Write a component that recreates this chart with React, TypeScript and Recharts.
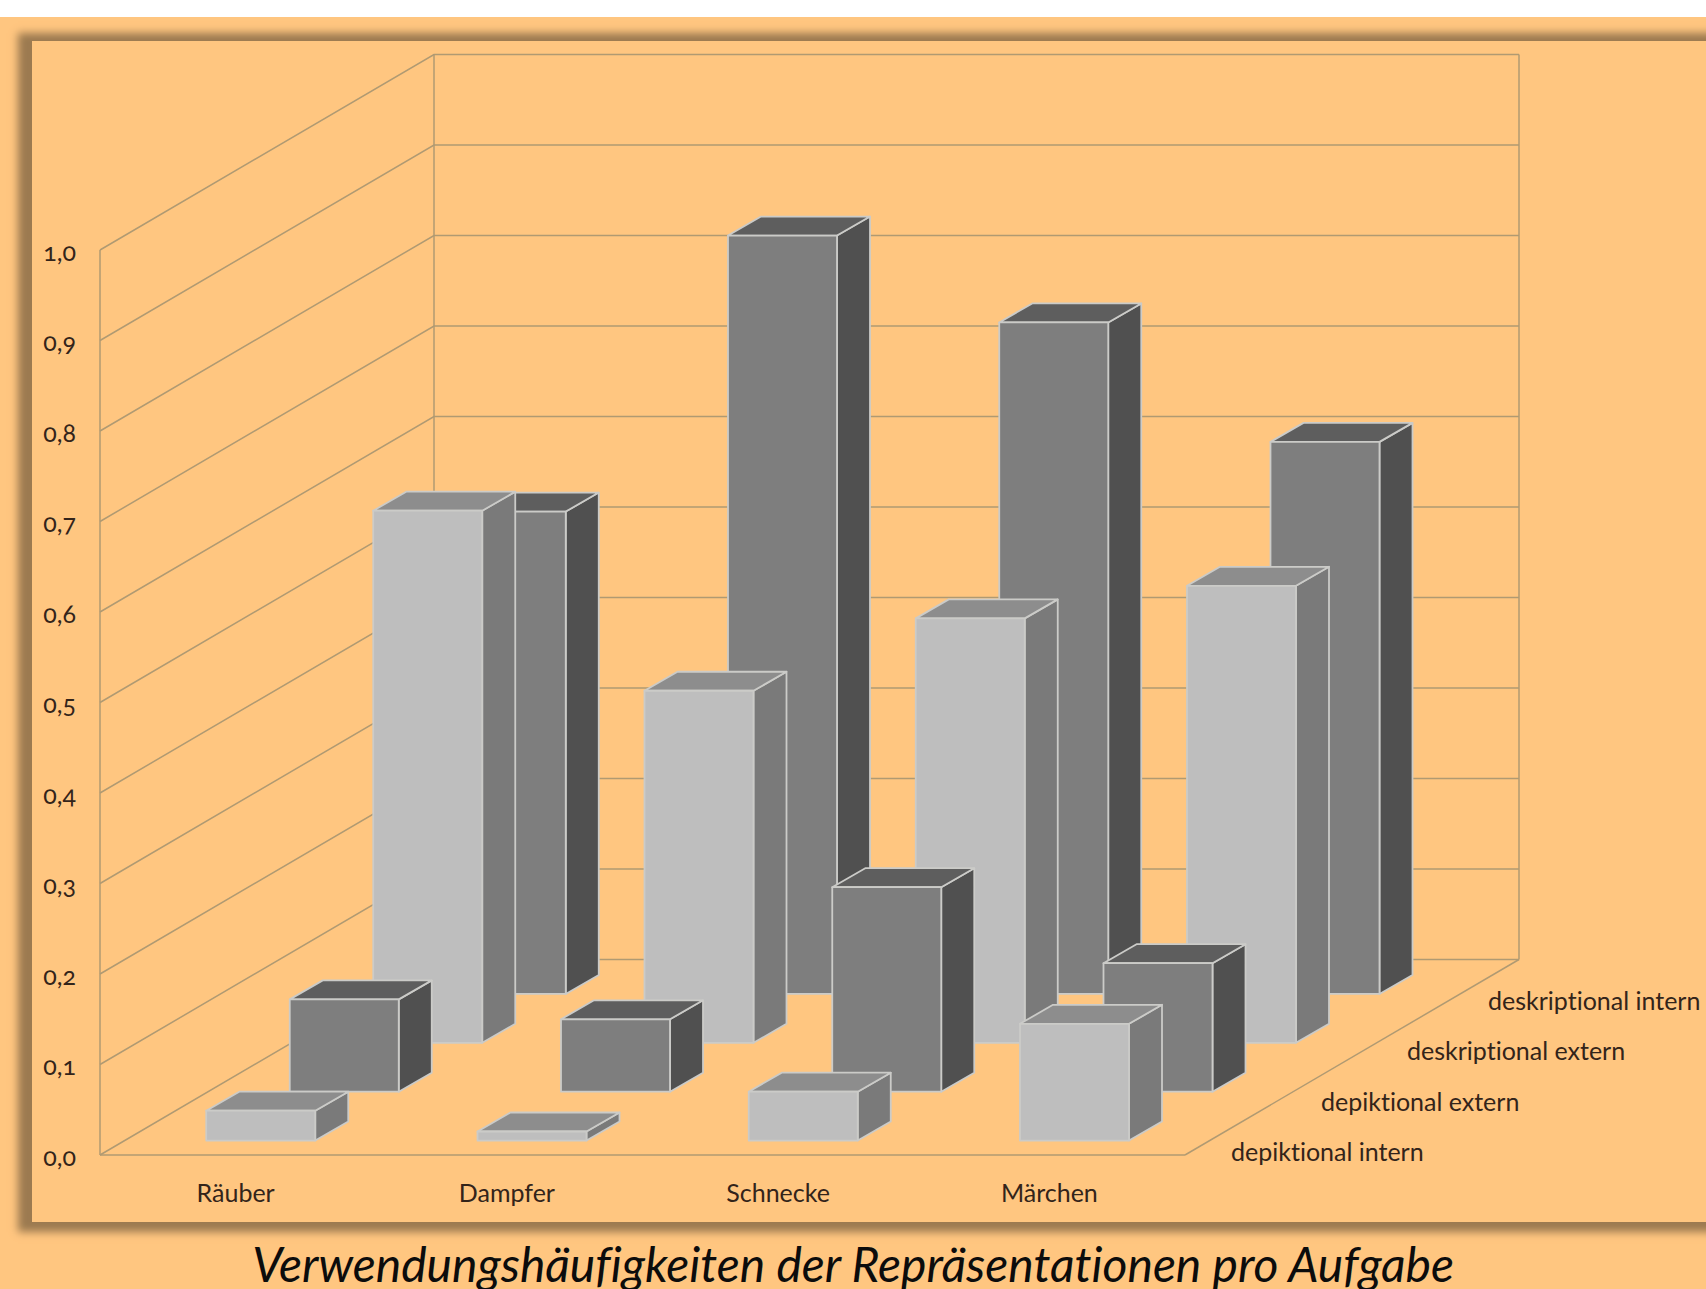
import { BarChart, Bar, XAxis, YAxis, CartesianGrid } from "recharts"

const categories = ["Räuber", "Dampfer", "Schnecke", "Märchen"]
const rowNames = ["depiktional intern", "depiktional extern", "deskriptional extern", "deskriptional intern"]
const depiktionalIntern = [0.033, 0.01, 0.054, 0.129]
const depiktionalExtern = [0.102, 0.08, 0.226, 0.142]
const deskriptionalExtern = [0.588, 0.389, 0.469, 0.505]
const deskriptionalIntern = [0.533, 0.838, 0.742, 0.61]
const yTicks = [0, 0.1, 0.2, 0.3, 0.4, 0.5, 0.6, 0.7, 0.8, 0.9, 1]

const chartData = categories.map((name, i) => ({
  name,
  row0: depiktionalIntern[i],
  row1: depiktionalExtern[i],
  row2: deskriptionalExtern[i],
  row3: deskriptionalIntern[i],
}))

// plot area is the front plane of the box, depth is added by hand
const WIDTH = 1706
const HEIGHT = 1289
const PLOT_LEFT = 100
const PLOT_RIGHT = 1185
const PLOT_TOP = 250
const PLOT_BOTTOM = 1155
const DEPTH_X = 334
const DEPTH_Y = -195.5
const ROW_DX = DEPTH_X / 4
const ROW_DY = DEPTH_Y / 4
const BAR_DX = 33
const BAR_DY = -19
const BAR_SIZE = 109
const ROW_LABEL_X = [1231, 1321, 1407, 1488]

const FONT = "Lato, sans-serif"
const TEXT_COLOR = "#33241a"
const LINE_COLOR = "#b09a72"

const lightBar = { front: "#bebebe", side: "#7a7a7a", top: "#8d8d8d" }
const darkBar = { front: "#7e7e7e", side: "#505050", top: "#5e5e5e" }

function cuboid(row: number, colors: typeof lightBar) {
  return (props: any) => {
    const { x, y, width, height } = props
    const ox = x + (ROW_DX - BAR_DX) / 2 + row * ROW_DX
    const oy = y + (ROW_DY - BAR_DY) / 2 + row * ROW_DY + 0.5
    const r = ox + width
    const b = oy + height
    const edge = { stroke: "#cbcbc8", strokeWidth: 1.8, strokeLinejoin: "round" as const }
    return (
      <g>
        <polygon
          points={`${r},${oy} ${r + BAR_DX},${oy + BAR_DY} ${r + BAR_DX},${b + BAR_DY} ${r},${b}`}
          fill={colors.side}
          {...edge}
        />
        <polygon
          points={`${ox},${oy} ${ox + BAR_DX},${oy + BAR_DY} ${r + BAR_DX},${oy + BAR_DY} ${r},${oy}`}
          fill={colors.top}
          {...edge}
        />
        <rect x={ox} y={oy} width={width} height={height} fill={colors.front} {...edge} />
      </g>
    )
  }
}

// every grid tick runs along the left wall and then along the back wall
function wallLine(props: any) {
  const { x1, x2, y1, index } = props
  const bx = x1 + DEPTH_X
  const by = y1 + DEPTH_Y
  const common = { fill: "none", stroke: LINE_COLOR, strokeWidth: 1.5 }
  return (
    <g key={index}>
      <polyline points={`${x1},${y1} ${bx},${by} ${x2 + DEPTH_X},${by}`} {...common} />
      {Math.abs(y1 - PLOT_TOP) < 1 && (
        <>
          <line x1={bx} y1={by} x2={bx} y2={PLOT_BOTTOM + DEPTH_Y} {...common} />
          <line x1={x2 + DEPTH_X} y1={by} x2={x2 + DEPTH_X} y2={PLOT_BOTTOM + DEPTH_Y} {...common} />
        </>
      )}
      {Math.abs(y1 - PLOT_BOTTOM) < 1 && (
        <line x1={x2} y1={y1} x2={x2 + DEPTH_X} y2={by} {...common} />
      )}
    </g>
  )
}

export default function App() {
  return (
    <div style={{ position: "relative", width: WIDTH, height: HEIGHT, overflow: "hidden", background: "#fff" }}>
      <style>{`body{margin:0}`}</style>
      <div style={{ position: "absolute", left: 0, top: 17, width: WIDTH, height: HEIGHT - 17, background: "#ffc680" }} />
      <div
        style={{
          position: "absolute",
          left: 32,
          top: 41,
          width: 1760,
          height: 1181,
          background: "#ffc680",
          boxShadow: "-5px 1px 8px 9px #9c7a50",
        }}
      />
      <div style={{ position: "absolute", left: 0, top: 0 }}>
        <BarChart
          width={WIDTH}
          height={HEIGHT}
          data={chartData}
          barSize={BAR_SIZE}
          barGap={-BAR_SIZE}
          margin={{ top: PLOT_TOP, left: PLOT_LEFT - 60, right: WIDTH - PLOT_RIGHT, bottom: HEIGHT - PLOT_BOTTOM - 60 }}
        >
          <CartesianGrid vertical={false} horizontal={wallLine} />
          <XAxis
            dataKey="name"
            height={60}
            axisLine={{ stroke: LINE_COLOR, strokeWidth: 1.5 }}
            tickLine={false}
            tickMargin={23}
            tick={{ fontFamily: FONT, fontSize: 25, fill: TEXT_COLOR, style: { fontVariantLigatures: "none" } }}
          />
          <YAxis
            domain={[0, 1]}
            ticks={yTicks}
            width={60}
            interval={0}
            axisLine={{ stroke: LINE_COLOR, strokeWidth: 1.5 }}
            tickLine={false}
            tickMargin={18}
            tickFormatter={(v: number) => v.toFixed(1).replace(".", ",")}
            tick={{ fontFamily: FONT, fontSize: 25, fill: TEXT_COLOR, dy: 2, style: { fontFeatureSettings: '"onum"' } }}
          />
          <Bar dataKey="row3" name={rowNames[3]} isAnimationActive={false} shape={cuboid(3, darkBar)} />
          <Bar dataKey="row2" name={rowNames[2]} isAnimationActive={false} shape={cuboid(2, lightBar)} />
          <Bar dataKey="row1" name={rowNames[1]} isAnimationActive={false} shape={cuboid(1, darkBar)} />
          <Bar dataKey="row0" name={rowNames[0]} isAnimationActive={false} shape={cuboid(0, lightBar)} />
          {rowNames.map((name, i) => (
            <text
              key={name}
              x={ROW_LABEL_X[i]}
              y={1161 - i * 50.3}
              fontFamily={FONT}
              fontSize={25}
              fill={TEXT_COLOR}
              style={{ fontVariantLigatures: "none" }}
            >
              {name}
            </text>
          ))}
        </BarChart>
      </div>
      <div
        style={{
          position: "absolute",
          left: 0,
          width: WIDTH,
          top: 1238,
          height: 51,
          textAlign: "center",
          fontFamily: FONT,
          fontStyle: "italic",
          fontSize: 48,
          color: "#0c0c0c",
          lineHeight: "51px",
          whiteSpace: "nowrap",
          fontVariantLigatures: "none",
        }}
      >
        Verwendungshäufigkeiten der Repräsentationen pro Aufgabe
      </div>
    </div>
  )
}
